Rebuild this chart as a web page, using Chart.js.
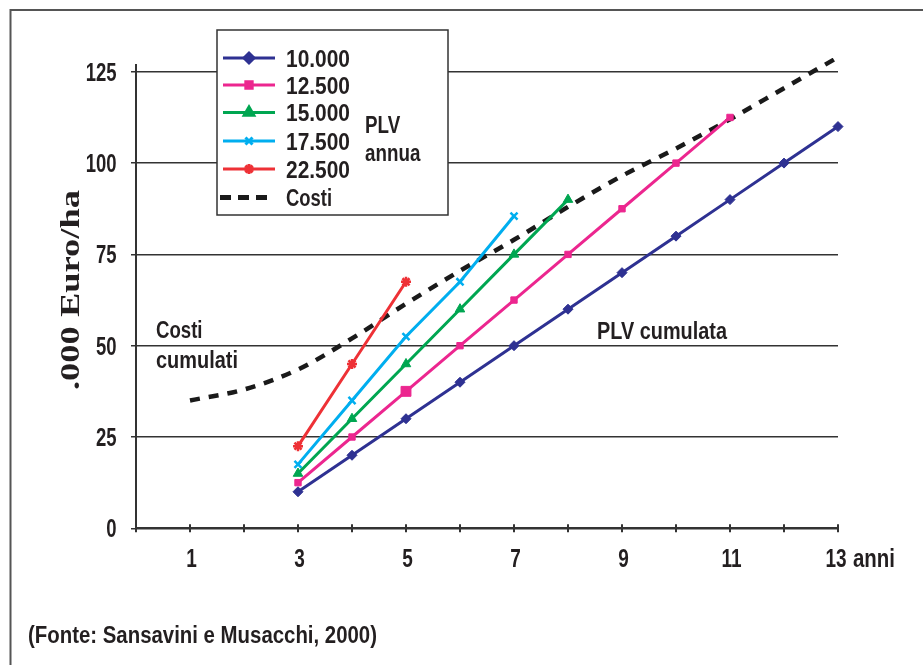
<!DOCTYPE html>
<html>
<head>
<meta charset="utf-8">
<script src="https://cdn.jsdelivr.net/npm/chart.js@4.4.1/dist/chart.umd.min.js"></script>
<style>
html,body{margin:0;padding:0;background:#fff;}
canvas{display:block;}
</style>
</head>
<body>
<canvas id="c" width="923" height="665"></canvas>
<script>
// ---- data ----
const anni = [1,2,3,4,5,6,7,8,9,10,11,12,13];
const xTickLabels = [1,3,5,7,9,11,13];
const yTickValues = [0,25,50,75,100,125];
const serieNomi = ['10.000','12.500','15.000','17.500','22.500'];
const plv10000 = [null,null,10,20,30,40,50,60,70,80,90,100,110];
const plv12500 = [null,null,12.5,25,37.5,50,62.5,75,87.5,100,112.5,null,null];
const plv15000 = [null,null,15,30,45,60,75,90,null,null,null,null,null];
const plv17500 = [null,null,17.5,35,52.5,67.5,85.5,null,null,null,null,null,null];
const plv22500 = [null,null,22.5,45,67.5,null,null,null,null,null,null,null,null];
const costi    = [35,38,43.5,52,61.5,70.5,79,88,96.5,104,112,120.5,129];
const costiNome = 'Costi';

// ---- styles ----
const FONT = '"Liberation Sans","Arial","Helvetica",sans-serif';
const TXT = '#231f20';
function pts(arr){ return anni.map((x,i)=>({x:x,y:arr[i]})).filter(p=>p.y!==null); }

const styles = [
  {color:'#2e3192', pointStyle:'rectRot', radius:5},
  {color:'#ec268f', pointStyle:'rect', radius:4.5},
  {color:'#00a651', pointStyle:'triangle', radius:5.5},
  {color:'#00aeef', pointStyle:'crossRot', radius:5},
  {color:'#ee3136', pointStyle:'star', radius:5}
];
const serie = [plv10000,plv12500,plv15000,plv17500,plv22500];

const datasets = serie.map((s,i)=>({
  label: serieNomi[i],
  data: pts(s),
  borderColor: styles[i].color,
  backgroundColor: styles[i].color,
  pointBackgroundColor: styles[i].color,
  pointBorderColor: styles[i].color,
  pointStyle: styles[i].pointStyle,
  pointRadius: (i===1) ? pts(s).map(p=>p.x===5?7:styles[i].radius) : styles[i].radius,
  pointBorderWidth: (styles[i].pointStyle==='crossRot'||styles[i].pointStyle==='star')?2.5:1,
  borderWidth: 3,
  tension: 0,
  clip: false
}));
datasets.push({
  label: costiNome,
  data: pts(costi),
  borderColor: '#1a1a1a',
  borderWidth: 4.5,
  borderDash: [10,9],
  pointRadius: 0,
  tension: 0.4,
  cubicInterpolationMode: 'monotone',
  clip: false
});

// draw condensed text: size in px, sx horizontal scale, or fit to width w
function txt(ctx, s, x, y, size, opt){
  opt = opt || {};
  ctx.save();
  ctx.font = (opt.weight||'bold')+' '+size+'px '+(opt.family||FONT);
  ctx.fillStyle = TXT;
  ctx.textBaseline = 'alphabetic';
  ctx.textAlign = 'left';
  const m = ctx.measureText(s).width;
  const sx = opt.w ? opt.w/m : (opt.sx||0.82);
  const wd = m*sx;
  let x0 = x;
  if (opt.align==='right') x0 = x - wd;
  else if (opt.align==='center') x0 = x - wd/2;
  ctx.translate(x0, y);
  ctx.scale(sx,1);
  ctx.fillText(s,0,0);
  ctx.restore();
}

const decor = {
  id:'decor',
  beforeDraw(chart){
    const ctx = chart.ctx;
    ctx.save();
    ctx.fillStyle='#fff';
    ctx.fillRect(0,0,chart.width,chart.height);
    ctx.strokeStyle='#555';
    ctx.lineWidth=2;
    ctx.beginPath();
    ctx.moveTo(10.5,chart.height);
    ctx.lineTo(10.5,10);
    ctx.lineTo(chart.width,10);
    ctx.stroke();
    ctx.restore();
  },
  afterDraw(chart){
    const ctx = chart.ctx;
    const xs = chart.scales.x, ys = chart.scales.y;
    ctx.save();
    // x tick marks crossing the axis
    const y0 = ys.getPixelForValue(0);
    ctx.strokeStyle='#333'; ctx.lineWidth=2;
    xs.ticks.forEach(t=>{
      const px = xs.getPixelForValue(t.value);
      ctx.beginPath(); ctx.moveTo(px,y0-4); ctx.lineTo(px,y0+4); ctx.stroke();
    });
    // tick labels (condensed)
    ys.ticks.forEach(t=>{
      txt(ctx, String(t.value), 116.5, ys.getPixelForValue(t.value)+9, 25, {align:'right', sx:0.74});
    });
    xs.ticks.forEach(t=>{
      const dx = t.value===13 ? -2 : 1.5;
      if (xTickLabels.includes(t.value))
        txt(ctx, String(t.value), xs.getPixelForValue(t.value)+dx, 567, 25, {align:'center', sx:0.76});
    });
    txt(ctx, 'anni', xs.getPixelForValue(13)+15, 567, 25, {w:42});
    // annotations
    txt(ctx, 'Costi', 156, 338, 23.5, {w:46.5});
    txt(ctx, 'cumulati', 156, 368, 23.5, {w:82});
    txt(ctx, 'PLV cumulata', 597, 339, 23.5, {w:130});
    txt(ctx, '(Fonte: Sansavini e Musacchi, 2000)', 28, 643, 23, {w:349});
    // y title
    ctx.save();
    ctx.translate(79, 290);
    ctx.rotate(-Math.PI/2);
    ctx.font='bold 27px "Liberation Serif","Times New Roman",serif';
    const tw = ctx.measureText('.000 Euro/ha').width;
    const tsx = 200/tw;
    ctx.scale(tsx,1);
    ctx.fillStyle=TXT;
    ctx.textAlign='center';
    ctx.textBaseline='alphabetic';
    ctx.fillText('.000 Euro/ha', 0, 0);
    ctx.restore();
    // legend box
    const bx=217, by=30, bw=231, bh=185;
    ctx.fillStyle='#fff';
    ctx.fillRect(bx,by,bw,bh);
    ctx.strokeStyle='#333'; ctx.lineWidth=1.5;
    ctx.strokeRect(bx,by,bw,bh);
    const rows=[58,85,112.5,141,169,197.5];
    chart.data.datasets.forEach((ds,i)=>{
      const ry = rows[i];
      ctx.save();
      if (i<5){
        ctx.strokeStyle=ds.borderColor; ctx.lineWidth=3;
        ctx.beginPath(); ctx.moveTo(223,ry); ctx.lineTo(275,ry); ctx.stroke();
        ctx.fillStyle=ds.pointBackgroundColor; ctx.strokeStyle=ds.pointBorderColor;
        Chart.helpers.drawPoint(ctx,{pointStyle:ds.pointStyle, radius:styles[i].radius, rotation:0, borderWidth:ds.pointBorderWidth}, 249, ry);
        ctx.restore();
        txt(ctx, ds.label, 286, ry+8.5, 23.5, {w:64});
      } else {
        ctx.strokeStyle=ds.borderColor; ctx.lineWidth=5;
        ctx.setLineDash([11,7]);
        ctx.beginPath(); ctx.moveTo(220,ry); ctx.lineTo(267,ry); ctx.stroke();
        ctx.restore();
        txt(ctx, ds.label, 286, ry+8.5, 23.5, {w:46});
      }
    });
    txt(ctx, 'PLV', 365, 133, 23.5, {sx:0.8});
    txt(ctx, 'annua', 365, 161, 23.5, {sx:0.8});
    ctx.restore();
  }
};

new Chart(document.getElementById('c'), {
  type:'line',
  data:{datasets:datasets},
  options:{
    responsive:false,
    animation:false,
    layout:{padding:{left:0,right:85,top:64.5,bottom:0}},
    plugins:{legend:{display:false}, tooltip:{enabled:false}},
    scales:{
      x:{
        type:'linear', min:0, max:13,
        afterBuildTicks:(s)=>{ s.ticks = [0].concat(anni).map(v=>({value:v})); },
        ticks:{display:false, autoSkip:false},
        grid:{display:false},
        border:{display:true, color:'#333', width:2},
        afterFit:(s)=>{ s.height = 665-528.3; }
      },
      y:{
        min:0, max:127,
        afterBuildTicks:(s)=>{ s.ticks = yTickValues.map(v=>({value:v})); },
        ticks:{display:false},
        grid:{color:'#333', lineWidth:1.5, tickLength:5, drawTicks:true},
        border:{display:true, color:'#333', width:2},
        afterFit:(s)=>{ s.width = 136; }
      }
    }
  },
  plugins:[decor]
});
</script>
</body>
</html>
